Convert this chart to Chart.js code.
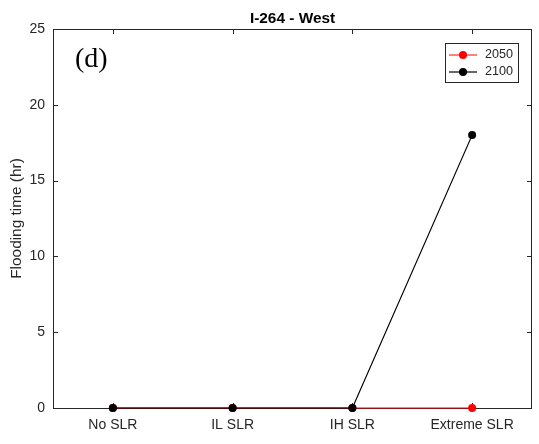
<!DOCTYPE html>
<html>
<head>
<meta charset="utf-8">
<title>I-264 - West</title>
<script src="https://cdn.jsdelivr.net/npm/chart.js@4.4.0/dist/chart.umd.min.js"></script>
<style>
  html, body { margin: 0; padding: 0; background: #fff; }
  #wrap { width: 539px; height: 444px; }
</style>
</head>
<body>
<div id="wrap"><canvas id="floodChart" width="539" height="444"></canvas></div>
<script>
// chart data
const categories = ['No SLR', 'IL SLR', 'IH SLR', 'Extreme SLR'];
const hours2050 = [0, 0, 0, 0];
const hours2100 = [0, 0, 0, 18];
const yTicks = [0, 5, 10, 15, 20, 25];
const seriesNames = ['2050', '2100'];
const chartTitle = 'I-264 - West';
const panelLabel = '(d)';

const axisColor = '#262626';
const sansFont = '"Liberation Sans", Arial, sans-serif';

// box around the plot + inward ticks (matlab style)
const framePlugin = {
    id: 'frame',
    beforeDatasetsDraw: function (chart) {
        const ctx = chart.ctx;
        const a = chart.chartArea;
        const x = chart.scales.x;
        const y = chart.scales.y;
        ctx.save();
        ctx.strokeStyle = axisColor;
        ctx.lineWidth = 1;
        ctx.strokeRect(a.left + 0.5, a.top + 0.5, a.right - a.left - 1, a.bottom - a.top);
        ctx.beginPath();
        // y ticks, left and right
        y.ticks.forEach(function (t) {
            const py = Math.round(y.getPixelForValue(t.value)) + 0.5;
            ctx.moveTo(a.left, py); ctx.lineTo(a.left + 5, py);
            ctx.moveTo(a.right, py); ctx.lineTo(a.right - 5, py);
        });
        // x ticks, top and bottom
        categories.forEach(function (c, i) {
            const px = Math.round(x.getPixelForValue(i)) + 0.5;
            ctx.moveTo(px, a.top); ctx.lineTo(px, a.top + 5);
            ctx.moveTo(px, a.bottom); ctx.lineTo(px, a.bottom - 5);
        });
        ctx.stroke();
        ctx.restore();
    },
    afterDraw: function (chart) {
        const ctx = chart.ctx;
        const a = chart.chartArea;
        ctx.save();

        // title
        ctx.fillStyle = '#000';
        ctx.font = 'bold 15.4px ' + sansFont;
        ctx.textAlign = 'center';
        ctx.textBaseline = 'middle';
        ctx.fillText(chartTitle, (a.left + a.right) / 2, 19);

        // panel label
        ctx.font = '28px "Liberation Serif", "Times New Roman", serif';
        ctx.textAlign = 'left';
        ctx.fillText(panelLabel, a.left + 22, a.top + 31);

        // legend box
        const bx = a.right - 87;
        const by = a.top + 14;
        ctx.fillStyle = '#fff';
        ctx.fillRect(bx, by, 73, 39);
        ctx.strokeStyle = axisColor;
        ctx.lineWidth = 1;
        ctx.strokeRect(bx + 0.5, by + 0.5, 73, 39);
        chart.data.datasets.forEach(function (ds, i) {
            const ry = by + 12 + i * 17;
            ctx.strokeStyle = ds.borderColor;
            ctx.lineWidth = ds.borderWidth;
            ctx.beginPath();
            ctx.moveTo(bx + 4, ry);
            ctx.lineTo(bx + 32, ry);
            ctx.stroke();
            ctx.fillStyle = ds.backgroundColor;
            ctx.beginPath();
            ctx.arc(bx + 18, ry, 4, 0, Math.PI * 2);
            ctx.fill();
            ctx.fillStyle = axisColor;
            ctx.font = '12.6px ' + sansFont;
            ctx.textAlign = 'left';
            ctx.fillText(ds.label, bx + 40, ry);
        });
        ctx.restore();
    }
};

var ctx = document.getElementById('floodChart').getContext('2d');
var floodChart = new Chart(ctx, {
    type: 'line',
    data: {
        labels: categories,
        datasets: [{
            label: seriesNames[0],
            data: hours2050,
            borderColor: '#ff0000',
            backgroundColor: '#ff0000',
            borderWidth: 1,
            pointRadius: 4,
            pointBorderWidth: 0,
            order: 1,
            clip: false
        }, {
            label: seriesNames[1],
            data: hours2100,
            borderColor: '#000000',
            backgroundColor: '#000000',
            borderWidth: 1.2,
            pointRadius: 4,
            pointBorderWidth: 0,
            order: 0,
            clip: false
        }]
    },
    options: {
        responsive: false,
        devicePixelRatio: 1,
        animation: false,
        layout: { padding: { top: 29, right: 7, left: 0, bottom: 0 } },
        plugins: {
            legend: { display: false },
            title: { display: false },
            tooltip: { enabled: false }
        },
        scales: {
            x: {
                offset: true,
                grid: { display: false, drawTicks: false },
                border: { display: false },
                ticks: { color: axisColor, font: { family: sansFont, size: 14 }, padding: 9, maxRotation: 0 },
                afterFit: function (s) { s.height = 36; }
            },
            y: {
                min: 0,
                max: 25,
                grid: { display: false, drawTicks: false },
                border: { display: false },
                ticks: { color: axisColor, font: { family: sansFont, size: 14 }, padding: 8 },
                afterBuildTicks: function (s) { s.ticks = yTicks.map(function (v) { return { value: v }; }); },
                title: {
                    display: true,
                    text: 'Flooding time (hr)',
                    color: axisColor,
                    font: { family: sansFont, size: 15.4 },
                    padding: { top: 8, bottom: 0 }
                },
                afterFit: function (s) { s.width = 53; }
            }
        }
    },
    plugins: [framePlugin]
});
</script>
</body>
</html>
